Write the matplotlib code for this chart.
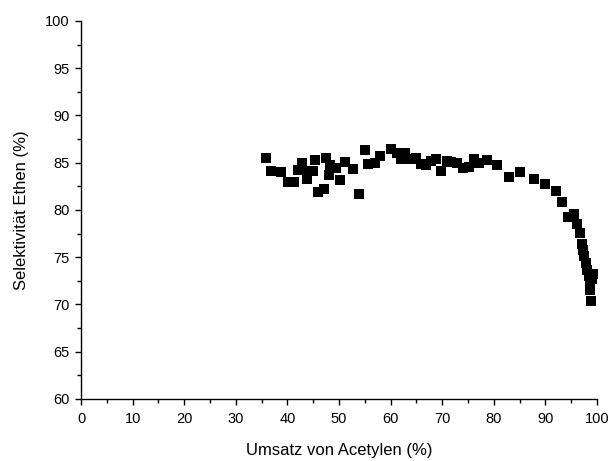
import matplotlib.pyplot as plt
from matplotlib.ticker import MultipleLocator

# conversion of acetylene (%) and ethene selectivity (%)
umsatz = [35.8, 36.8, 38.8, 40.2, 41.3, 42.1, 42.9, 43.8, 43.9, 44.9, 45.3,
          46.0, 47.0, 47.5, 48.1, 48.3, 49.4, 50.1, 51.2, 52.8, 53.8,
          55.0, 55.7, 57.0, 57.9, 60.0, 61.2, 62.0, 62.8, 64.0, 64.9,
          65.9, 66.8, 67.8, 68.8, 69.8, 70.9, 71.8, 72.9, 74.0, 75.1,
          76.2, 77.1, 78.7, 80.6, 83.0, 85.1, 87.7, 89.9, 92.0, 93.3,
          94.4, 95.5, 96.2, 96.7, 97.0, 97.3, 97.5, 97.9, 98.1, 98.5,
          98.6, 98.6, 98.8, 99.1, 99.2]
selektivitaet = [85.5, 84.1, 84.0, 83.0, 82.95, 84.26, 85.0, 83.3, 84.15, 84.15, 85.24,
                 81.9, 82.2, 85.5, 83.7, 84.8, 84.4, 83.2, 85.1, 84.3, 81.7,
                 86.4, 84.9, 85.0, 85.7, 86.5, 86.0, 85.4, 86.0, 85.4, 85.5,
                 84.9, 84.8, 85.2, 85.4, 84.1, 85.2, 85.1, 85.0, 84.4, 84.5,
                 85.4, 85.0, 85.3, 84.8, 83.5, 84.0, 83.3, 82.8, 82.0, 80.8,
                 79.3, 79.6, 78.5, 77.6, 76.4, 75.8, 75.1, 74.4, 73.7, 73.0,
                 72.2, 71.5, 70.4, 72.7, 73.2]

plt.rcParams['font.family'] = ['Liberation Sans', 'DejaVu Sans']

fig = plt.figure(figsize=(6.1, 4.61), dpi=100)
ax = fig.add_axes([0.1328, 0.1345, 0.8459, 0.82])

ax.plot(umsatz, selektivitaet, 's', color='black', markersize=6.5, markeredgewidth=0)

ax.set_xlim(0, 100)
ax.set_ylim(60, 100)
ax.xaxis.set_major_locator(MultipleLocator(10))
ax.xaxis.set_minor_locator(MultipleLocator(5))
ax.yaxis.set_major_locator(MultipleLocator(5))
ax.yaxis.set_minor_locator(MultipleLocator(2.5))
ax.tick_params(which='major', direction='out', length=4.5, width=1, labelsize=10.5)
ax.tick_params(axis='x', which='major', pad=5)
ax.tick_params(which='minor', direction='out', length=3, width=1)

ax.spines['top'].set_visible(False)
ax.spines['right'].set_visible(False)
ax.spines['left'].set_linewidth(1)
ax.spines['bottom'].set_linewidth(1)

ax.set_xlabel('Umsatz von Acetylen (%)', fontsize=12, labelpad=12)
ax.set_ylabel('Selektivität Ethen (%)', fontsize=12, labelpad=12)

fig.savefig('out.png', dpi=100)
